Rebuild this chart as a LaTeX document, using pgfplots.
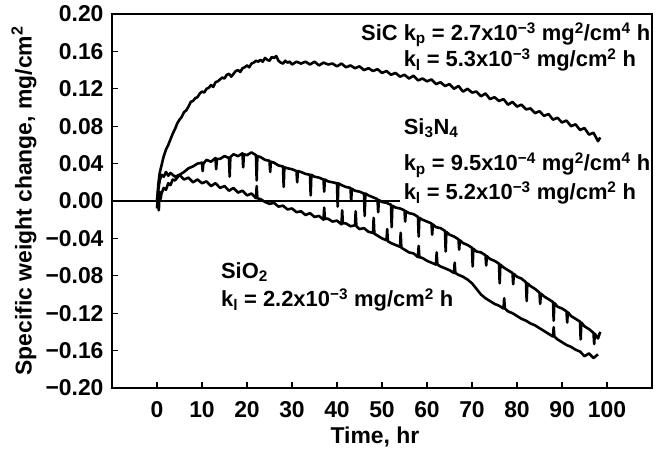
\documentclass[border=0pt]{standalone}
\usepackage{pgfplots}
\pgfplotsset{compat=1.18}
\usepackage{fontspec}
\setmainfont{Liberation Sans}
\begin{document}
\fontsize{22}{26}\selectfont\bfseries
\begin{tikzpicture}
\path[use as bounding box] (-112bp,-68bp) rectangle (545bp,388bp);
\begin{axis}[
  at={(0,0)}, anchor=south west,
  scale only axis, width=540bp, height=374bp,
  xmin=-10, xmax=110, ymin=-0.2, ymax=0.2,
  axis line style={line width=1.3bp},
  tick style={line width=1.2bp, black},
  major tick length=6bp,
  tick align=inside,
  xtick pos=bottom, ytick pos=left,
  xtick={0,10,...,100},
  ytick={-0.2,-0.16,-0.12,-0.08,-0.04,0,0.04,0.08,0.12,0.16,0.2},
  yticklabels={−0.20,−0.16,−0.12,−0.08,−0.04,0.00,0.04,0.08,0.12,0.16,0.20},
  /pgf/number format/assume math mode=true,
  ticklabel style={font=\fontsize{23}{27}\selectfont\bfseries},
  xticklabel style={yshift=-6bp},
  yticklabel style={xshift=-1bp},
  xlabel={Time, hr},
  ylabel={Specific weight change, mg/cm\textsuperscript{2}},
  xlabel style={at={(rel axis cs:0.487,-0.131)}, anchor=center, font=\fontsize{23}{27}\selectfont\bfseries},
  ylabel style={at={(rel axis cs:-0.163,0.5)}, anchor=center, font=\fontsize{23}{27}\selectfont\bfseries},
  clip=false,
]
% zero reference line
\addplot[black, line width=1.2bp] coordinates {(-10,0) (54,0)};
% SiC
\addplot[black, line width=2.6bp, line join=round] coordinates {
(0,0.000) (0.3,0.018) (0.6,0.030) (1,0.038) (1.5,0.048) (2,0.055) (2.5,0.060) (3,0.066) (3.5,0.072) (4,0.077) (4.5,0.083) (5,0.087)
(5.5,0.090) (6,0.095) (6.5,0.097) (7,0.101) (7.5,0.106) (8,0.107) (8.5,0.110) (9,0.111) (9.5,0.115) (10,0.117) (10.5,0.116) (11,0.120)
(11.5,0.121) (12,0.124) (12.5,0.122) (13,0.127) (13.5,0.128) (14,0.130) (14.5,0.132) (15,0.131) (15.5,0.135) (16,0.136) (16.5,0.133) (17,0.136)
(17.5,0.139) (18,0.140) (18.5,0.138) (19,0.142) (19.5,0.143) (20,0.145) (20.5,0.143) (21,0.147) (21.5,0.148) (22,0.150) (22.5,0.149)
(23,0.151) (23.5,0.149) (24,0.153) (24.5,0.151) (25,0.150) (25.5,0.154) (26,0.153) (26.5,0.155) (27,0.150) (27.5,0.148) (28,0.147) (28.5,0.150)
(29,0.148) (29.5,0.149) (30,0.146) (31,0.149) (32,0.147) (33,0.149) (34,0.146) (35,0.149) (36,0.145) (37,0.148) (38,0.146) (39,0.147) (40,0.144) (41,0.147)
(42,0.143) (43,0.145) (44,0.142) (45,0.144) (46,0.140) (47,0.142) (48,0.139) (49,0.141) (50,0.137) (51,0.139) (52,0.135) (53,0.137)
(54,0.133) (55,0.135) (56,0.131) (57,0.134) (58,0.129) (59,0.131) (60,0.128) (61,0.130) (62,0.125) (63,0.127) (64,0.123) (65,0.125)
(66,0.120) (67,0.123) (68,0.117) (69,0.120) (70,0.116) (71,0.117) (72,0.112) (73,0.115) (74,0.109) (75,0.111) (76,0.107) (77,0.109)
(78,0.103) (79,0.106) (80,0.101) (81,0.103) (82,0.098) (83,0.099) (84,0.094) (85,0.096) (86,0.091) (87,0.093) (88,0.087) (89,0.089)
(90,0.084) (91,0.086) (92,0.080) (93,0.082) (94,0.076) (95,0.078) (96,0.071) (97,0.073) (98,0.064) (98.5,0.068)
};
% Si3N4
\addplot[black, line width=2.6bp, line join=round] coordinates {
(0,-0.008) (0.2,0.006) (0.4,-0.010) (0.6,0.010) (0.8,0.002) (1,0.008) (1.5,0.014) (2,0.012) (2.5,0.019) (3,0.017) (3.5,0.023) (4,0.022)
(5,0.028) (6,0.031) (7,0.035) (8,0.037) (9,0.040) (10,0.041) (10.15,0.032) (10.3,0.040) (11,0.044) (12,0.042) (13,0.046) (13.15,0.034)
(13.3,0.045) (14,0.045) (15,0.048) (16,0.046) (16.15,0.026) (16.3,0.047) (17,0.050) (18,0.048) (19,0.051) (19.15,0.036) (19.3,0.050)
(20,0.049) (21,0.052) (22,0.049) (22.15,0.022) (22.3,0.048) (23,0.047) (24,0.044) (25,0.043) (25.15,0.031) (25.3,0.042) (26,0.041)
(27,0.038) (28,0.037) (28.15,0.015) (28.3,0.036) (29,0.035) (30,0.034) (31,0.032) (31.15,0.020) (31.3,0.032) (32,0.031) (33,0.029)
(34,0.028) (34.15,0.006) (34.3,0.028) (35,0.026) (36,0.025) (37,0.023) (37.15,0.010) (37.3,0.023) (38,0.021) (39,0.020) (40,0.019)
(40.15,-0.006) (40.3,0.019) (41,0.017) (42,0.015) (43,0.014) (43.15,0.000) (43.3,0.013) (44,0.011) (45,0.010) (46,0.008) (46.15,-0.016)
(46.3,0.008) (47,0.006) (48,0.004) (49,0.002) (49.15,-0.012) (49.3,0.001) (50,-0.001) (51,-0.002) (52,-0.004) (52.15,-0.028) (52.3,-0.005)
(53,-0.007) (54,-0.008) (55,-0.010) (55.15,-0.022) (55.3,-0.011) (56,-0.013) (57,-0.014) (58,-0.017) (58.15,-0.038) (58.3,-0.018)
(59,-0.020) (60,-0.022) (61,-0.024) (61.15,-0.036) (61.3,-0.025) (62,-0.028) (63,-0.029) (64,-0.032) (64.15,-0.054) (64.3,-0.033)
(65,-0.036) (66,-0.038) (67,-0.041) (67.15,-0.052) (67.3,-0.042) (68,-0.045) (69,-0.047) (70,-0.050) (70.15,-0.070) (70.3,-0.051)
(71,-0.054) (72,-0.055) (73,-0.058) (73.15,-0.069) (73.3,-0.059) (74,-0.062) (75,-0.064) (76,-0.067) (76.15,-0.088) (76.3,-0.068)
(77,-0.071) (78,-0.074) (79,-0.077) (79.15,-0.089) (79.3,-0.078) (80,-0.081) (81,-0.083) (82,-0.087) (82.15,-0.107) (82.3,-0.088)
(83,-0.091) (84,-0.094) (85,-0.098) (85.15,-0.110) (85.3,-0.099) (86,-0.102) (87,-0.105) (88,-0.108) (88.15,-0.128) (88.3,-0.109)
(89,-0.113) (90,-0.115) (91,-0.118) (91.15,-0.130) (91.3,-0.119) (92,-0.123) (93,-0.126) (94,-0.129) (94.15,-0.148) (94.3,-0.130)
(95,-0.134) (96,-0.137) (97,-0.141) (97.15,-0.153) (97.3,-0.142) (98,-0.147) (98.5,-0.140)
};
% SiO2
\addplot[black, line width=2.6bp, line join=round] coordinates {
(0,0.000) (0.3,0.012) (0.6,0.022) (1,0.028) (1.5,0.026) (2,0.031) (2.5,0.027) (3,0.030) (4,0.026) (5,0.028) (6,0.023) (7,0.025)
(8,0.020) (9,0.023) (10,0.019) (11,0.021) (12,0.016) (13,0.019) (14,0.014) (15,0.016) (16,0.011) (17,0.014) (18,0.009) (19,0.011)
(20,0.006) (21,0.008) (22,0.003) (22.15,0.016) (22.3,0.003) (23,0.002) (24,-0.001) (25,-0.003) (26,-0.002) (27,-0.006) (28,-0.005) (29,-0.009)
(30,-0.008) (31,-0.012) (32,-0.011) (33,-0.015) (34,-0.013) (35,-0.017) (36,-0.016) (37,-0.020) (37.15,-0.007) (37.3,-0.019)
(38,-0.019) (39,-0.022) (40,-0.021) (41,-0.025) (41.15,-0.010) (41.3,-0.024) (42,-0.024) (43,-0.027) (44,-0.026) (44.15,-0.011) (44.3,-0.027)
(45,-0.030) (46,-0.029) (47,-0.033) (48,-0.034) (48.15,-0.018) (48.3,-0.035) (49,-0.037) (50,-0.040) (51,-0.042) (51.15,-0.030) (51.3,-0.043)
(52,-0.045) (53,-0.047) (54,-0.049) (54.15,-0.034) (54.3,-0.050) (55,-0.052) (56,-0.055) (57,-0.056) (58,-0.060) (58.15,-0.048) (58.3,-0.060)
(59,-0.061) (60,-0.064) (61,-0.066) (62,-0.068) (62.15,-0.055) (62.3,-0.068) (63,-0.070) (64,-0.072) (65,-0.074) (66,-0.077) (66.15,-0.066)
(66.3,-0.077) (67,-0.079) (68,-0.081) (69,-0.084) (70,-0.088) (71,-0.094) (72,-0.100) (73,-0.104) (74,-0.107) (75,-0.110) (76,-0.112)
(77,-0.115) (77.15,-0.104) (77.3,-0.115) (78,-0.118) (79,-0.120) (80,-0.123) (81,-0.126) (82,-0.128) (83,-0.131) (84,-0.133)
(85,-0.136) (86,-0.139) (87,-0.142) (88,-0.145) (88.15,-0.135) (88.3,-0.145) (89,-0.148) (90,-0.151) (91,-0.154)
(92,-0.156) (93,-0.159) (94,-0.161) (95,-0.166) (96,-0.163) (97,-0.168) (98,-0.164)
};
% annotations
\node[anchor=west, inner sep=0pt] at (axis cs:54.8,0.178) {\llap{SiC\ }k\textsubscript{p} = 2.7x10\textsuperscript{−3} mg\textsuperscript{2}/cm\textsuperscript{4} h};
\node[anchor=west, inner sep=0pt] at (axis cs:54.8,0.151) {k\textsubscript{l} = 5.3x10\textsuperscript{−3} mg/cm\textsuperscript{2} h};
\node[anchor=west, inner sep=0pt] at (axis cs:54.8,0.078) {Si\textsubscript{3}N\textsubscript{4}};
\node[anchor=west, inner sep=0pt] at (axis cs:54.8,0.0385) {k\textsubscript{p} = 9.5x10\textsuperscript{−4} mg\textsuperscript{2}/cm\textsuperscript{4} h};
\node[anchor=west, inner sep=0pt] at (axis cs:54.8,0.0086) {k\textsubscript{l} = 5.2x10\textsuperscript{−3} mg/cm\textsuperscript{2} h};
\node[anchor=west, inner sep=0pt] at (axis cs:14.2,-0.076) {SiO\textsubscript{2}};
\node[anchor=west, inner sep=0pt] at (axis cs:14.2,-0.106) {k\textsubscript{l} = 2.2x10\textsuperscript{−3} mg/cm\textsuperscript{2} h};
\end{axis}
\end{tikzpicture}
\end{document}
